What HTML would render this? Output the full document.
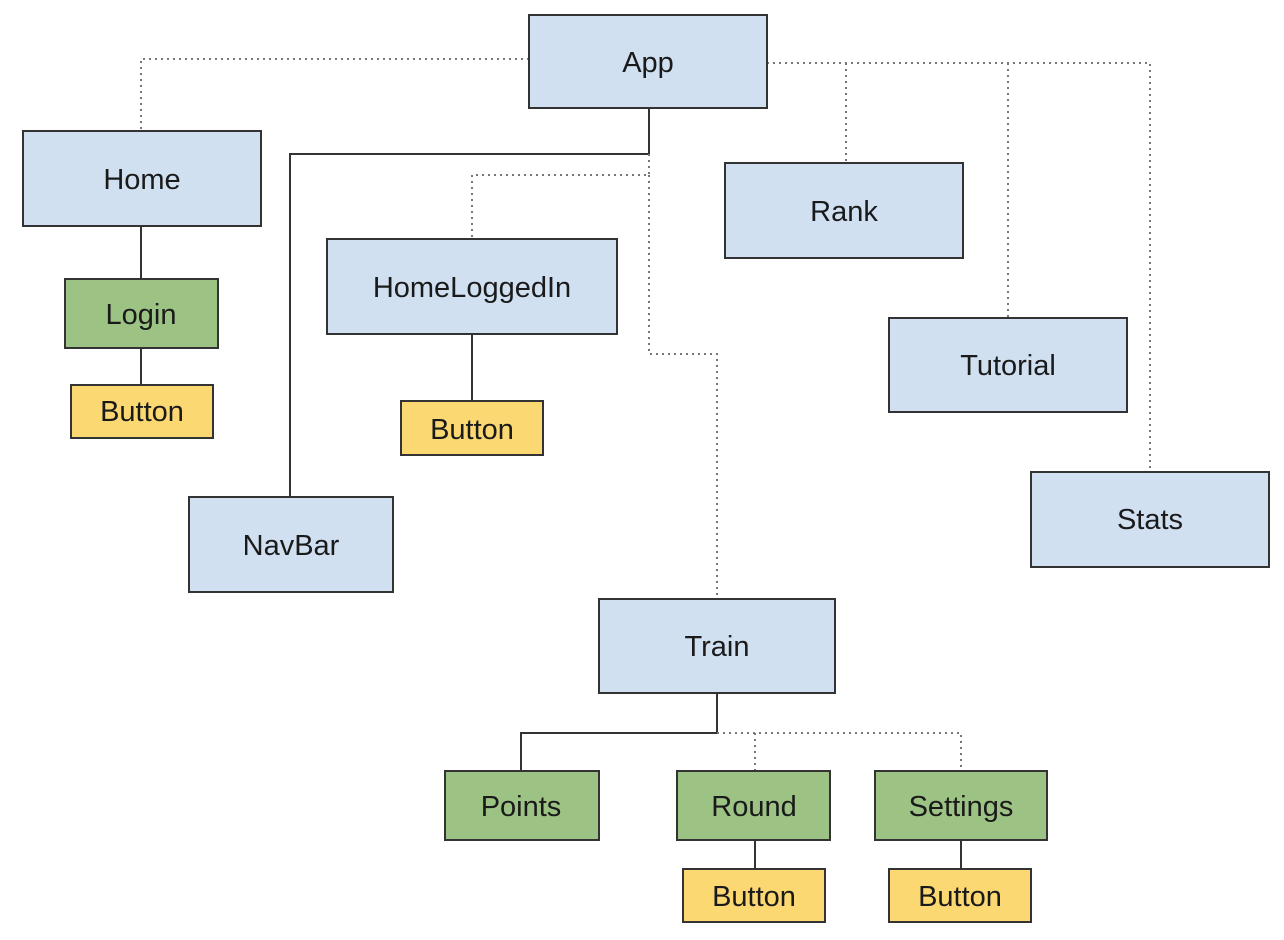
<!DOCTYPE html>
<html><head><meta charset="utf-8"><style>
html,body{margin:0;padding:0;background:#fff;}
svg{display:block;}
text{font-family:"Liberation Sans",sans-serif;font-size:29px;fill:#1a1a1a;text-anchor:middle;dominant-baseline:central;}
.b{fill:#d0e0f1;stroke:#333;stroke-width:2;}
.g{fill:#9dc384;stroke:#333;stroke-width:2;}
.y{fill:#fbd872;stroke:#333;stroke-width:2;}
.s{fill:none;stroke:#333;stroke-width:2;}
.d{fill:none;stroke:#777;stroke-width:2;stroke-dasharray:2 4;}
</style></head><body>
<svg width="1284" height="940" viewBox="0 0 1284 940">
<path class="d" d="M529 59 H141 V131"/>
<path class="s" d="M649 108 V154 H290 V497"/>
<path class="d" d="M649 154 V175 H472 V239"/>
<path class="d" d="M649 175 V354 H717 V599"/>
<path class="d" d="M767 63 H1150 V472"/>
<path class="d" d="M846 63 V163"/>
<path class="d" d="M1008 63 V318"/>
<path class="s" d="M141 226 V279 M141 348 V385"/>
<path class="s" d="M472 334 V401"/>
<path class="s" d="M717 693 V733 H521 V771"/>
<path class="d" d="M717 733 H961 V771 M755 733 V771"/>
<path class="s" d="M755 840 V869 M961 840 V869"/>
<rect class="b" x="529" y="15" width="238" height="93"/><text x="648" y="63">App</text>
<rect class="b" x="23" y="131" width="238" height="95"/><text x="142" y="180">Home</text>
<rect class="g" x="65" y="279" width="153" height="69"/><text x="141" y="315">Login</text>
<rect class="y" x="71" y="385" width="142" height="53"/><text x="142" y="412">Button</text>
<rect class="b" x="327" y="239" width="290" height="95"/><text x="472" y="288">HomeLoggedIn</text>
<rect class="y" x="401" y="401" width="142" height="54"/><text x="472" y="430">Button</text>
<rect class="b" x="189" y="497" width="204" height="95"/><text x="291" y="546">NavBar</text>
<rect class="b" x="725" y="163" width="238" height="95"/><text x="844" y="212">Rank</text>
<rect class="b" x="889" y="318" width="238" height="94"/><text x="1008" y="366">Tutorial</text>
<rect class="b" x="1031" y="472" width="238" height="95"/><text x="1150" y="520">Stats</text>
<rect class="b" x="599" y="599" width="236" height="94"/><text x="717" y="647">Train</text>
<rect class="g" x="445" y="771" width="154" height="69"/><text x="521" y="807">Points</text>
<rect class="g" x="677" y="771" width="153" height="69"/><text x="754" y="807">Round</text>
<rect class="g" x="875" y="771" width="172" height="69"/><text x="961" y="807">Settings</text>
<rect class="y" x="683" y="869" width="142" height="53"/><text x="754" y="897">Button</text>
<rect class="y" x="889" y="869" width="142" height="53"/><text x="960" y="897">Button</text>
</svg>
</body></html>
